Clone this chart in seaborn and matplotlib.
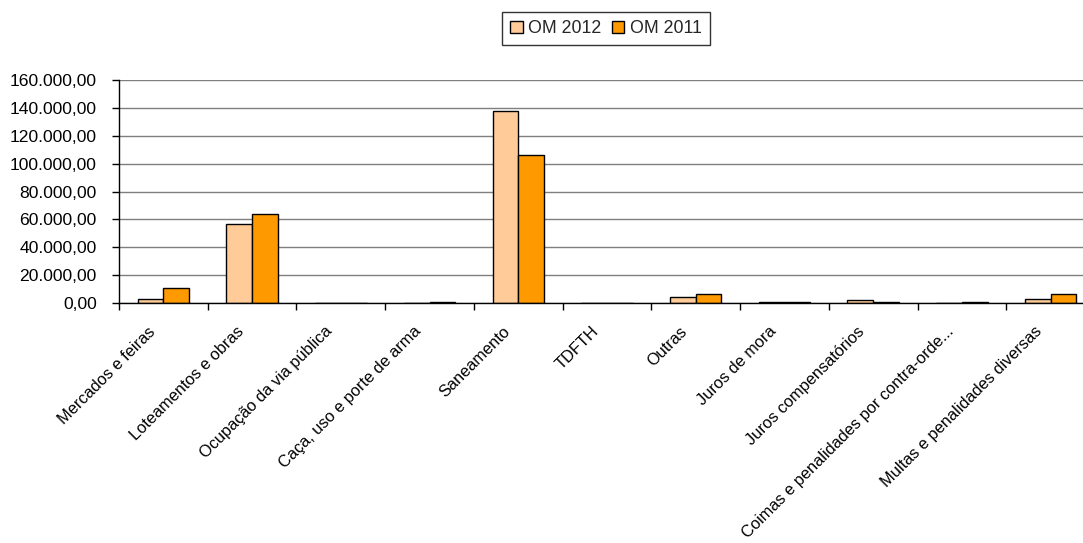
import matplotlib
matplotlib.use("Agg")
import matplotlib.pyplot as plt
import matplotlib.transforms as mtransforms
import seaborn as sns
import pandas as pd
import numpy as np
from matplotlib.ticker import FuncFormatter, FixedLocator

categories = ["Mercados e feiras", "Loteamentos e obras", "Ocupação da via pública",
              "Caça, uso e porte de arma", "Saneamento", "TDFTH", "Outras",
              "Juros de mora", "Juros compensatórios",
              "Coimas e penalidades por contra-orde...", "Multas e penalidades diversas"]
om2012 = [3200, 56800, 0, 0, 138000, 0, 4100, 600, 2100, 0, 3200]
om2011 = [10600, 63700, 0, 900, 106000, 0, 6400, 600, 700, 700, 6400]
series = ["OM 2012", "OM 2011"]
colors = ["#FFCC99", "#FF9900"]
yticks = [0, 20000, 40000, 60000, 80000, 100000, 120000, 140000, 160000]

df = pd.DataFrame({
    "cat": categories * 2,
    "val": om2012 + om2011,
    "serie": [series[0]] * len(categories) + [series[1]] * len(categories),
})

sns.set_theme(style="white")
plt.rcParams["font.family"] = ["Liberation Sans", "DejaVu Sans"]

fig = plt.figure(figsize=(10.83, 5.43), dpi=100)
ax = fig.add_axes([119 / 1083, 1 - 303 / 543, (1095 - 119) / 1083, 223 / 543])

sns.barplot(data=df, x="cat", y="val", hue="serie", palette=colors, ax=ax,
            width=0.58, edgecolor="black", linewidth=1.0, saturation=1,
            errorbar=None, legend=True, zorder=3)

ax.set_xlim(-0.5, len(categories) - 0.5)
ax.set_ylim(0, 160000)
ax.set_yticks(yticks)
ax.yaxis.set_major_formatter(FuncFormatter(
    lambda v, p: f"{v:,.2f}".replace(",", "X").replace(".", ",").replace("X", ".")))
ax.grid(axis="y", color="#7f7f7f", linewidth=1.0, zorder=0)
ax.set_axisbelow(True)
for s in ["top", "right"]:
    ax.spines[s].set_visible(False)
for s in ["left", "bottom"]:
    ax.spines[s].set_color("black")
    ax.spines[s].set_linewidth(1.0)
    ax.spines[s].set_zorder(4)

ax.set_xlabel("")
ax.set_ylabel("")
ax.set_xticks(range(len(categories)))
ax.set_xticklabels(categories, rotation=45, ha="right", rotation_mode="anchor",
                   fontsize=11.8, color="black")
ax.tick_params(axis="x", which="major", length=0, pad=15)
shift = mtransforms.ScaledTranslation(-16 / 100, 0, fig.dpi_scale_trans)
for lbl in ax.get_xticklabels():
    lbl.set_transform(lbl.get_transform() + shift)
ax.xaxis.set_minor_locator(FixedLocator(np.arange(-0.5, len(categories), 1.0)))
ax.tick_params(axis="x", which="minor", bottom=True, length=5, width=1, color="black", direction="out")
ax.tick_params(axis="y", left=True, length=5, width=1, color="black", direction="out",
               labelsize=12.6, labelcolor="black", pad=11)

leg = ax.legend(loc="center", bbox_to_anchor=(606 / 1083, 1 - 28.5 / 543),
                bbox_transform=fig.transFigure, ncol=2, frameon=True, fancybox=False,
                edgecolor="black", fontsize=12.8, handlelength=0.7, handleheight=0.7,
                handletextpad=0.3, columnspacing=0.6, borderpad=0.45, borderaxespad=0)
leg.get_frame().set_linewidth(1.0)
for h in leg.legend_handles:
    h.set_edgecolor("black")

fig.savefig("out.png", dpi=100)
